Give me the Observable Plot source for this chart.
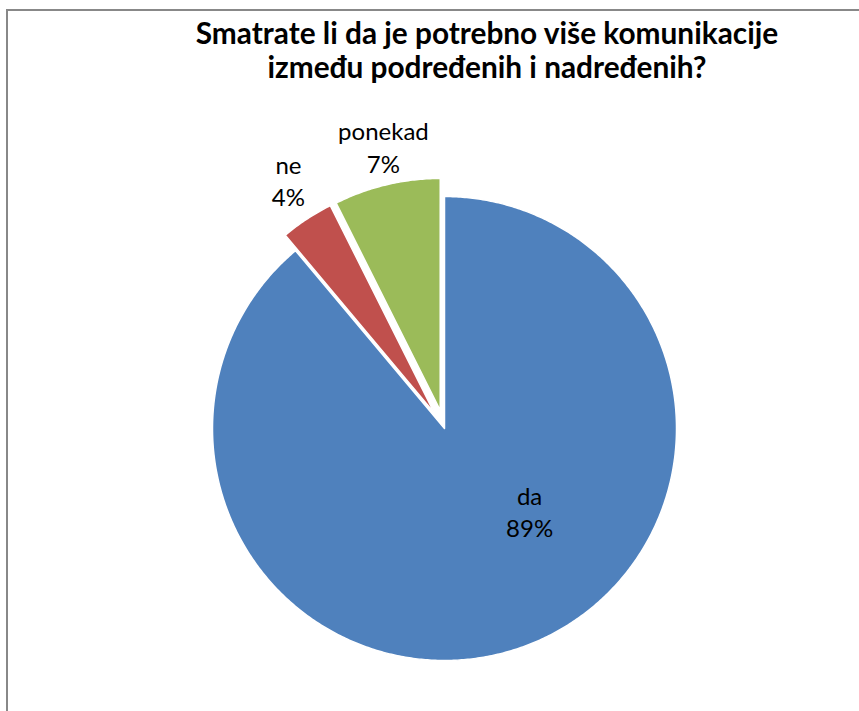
<!DOCTYPE html>
<html>
<head>
<meta charset="utf-8">
<script src="https://cdn.jsdelivr.net/npm/d3@7"></script>
<script src="https://cdn.jsdelivr.net/npm/@observablehq/plot@0.6"></script>
<style>
html, body { margin: 0; padding: 0; background: #fff; width: 859px; height: 711px; overflow: hidden; }
#frame { position: absolute; left: 6px; top: 9px; width: 1000px; height: 1000px;
  border-left: 2px solid #888; border-top: 2px solid #888; }
#title { position: absolute; left: 137px; width: 700px; top: 16px; text-align: center;
  font-family: Lato, sans-serif; font-weight: bold; font-size: 29.8px; line-height: 34px; color: #000; }
#chart { position: absolute; left: 0; top: 0; }
</style>
</head>
<body>
<div id="frame"></div>
<div id="chart"></div>
<div id="title">Smatrate li da je potrebno više komunikacije<br>između podređenih i nadređenih?</div>
<script>
const categories = ["da", "ne", "ponekad"];
const values = [88.9, 3.7, 7.4];
const colors = ["#4F81BD", "#C0504D", "#9BBB59"];
const exploded = ["ne", "ponekad"];

// layout (pixels)
const cx = 444, cy = 428, R = 232;
const explodeFrac = 0.08;
const labelPlace = { // polar placement (degrees clockwise from top, radius in units of R)
  da: {angle: 134, r: 0.51},
  ne: {angle: 327.9, r: 1.266},
  ponekad: {angle: 347.8, r: 1.246}
};

const total = d3.sum(values);
let a0 = 0;
const pts = [];
const labels = [];
categories.forEach((c, i) => {
  const a1 = a0 + values[i] / total * 2 * Math.PI;
  const mid = (a0 + a1) / 2;
  const off = exploded.includes(c) ? explodeFrac : 0;
  const ox = off * Math.sin(mid), oy = off * Math.cos(mid);
  pts.push({cat: c, x: ox, y: oy});
  const n = Math.max(2, Math.ceil((a1 - a0) / (Math.PI / 360)));
  for (let k = 0; k <= n; k++) {
    const a = a0 + (a1 - a0) * k / n;
    pts.push({cat: c, x: ox + Math.sin(a), y: oy + Math.cos(a)});
  }
  const lp = labelPlace[c];
  const la = lp.angle * Math.PI / 180;
  labels.push({cat: c, x: lp.r * Math.sin(la), y: lp.r * Math.cos(la),
    text: c + "\n" + Math.round(values[i] / total * 100) + "%"});
  a0 = a1;
});

const plot = Plot.plot({
  width: 859, height: 711, margin: 0,
  style: {background: "transparent", overflow: "visible"},
  x: {axis: null, domain: [-1, 1], range: [cx - R, cx + R]},
  y: {axis: null, domain: [-1, 1], range: [cy + R, cy - R]},
  color: {domain: categories, range: colors},
  marks: [
    Plot.line(pts, {x: "x", y: "y", z: "cat", fill: "cat", stroke: "white", strokeWidth: 1.5, curve: "linear-closed"}),
    Plot.text(labels, {x: "x", y: "y", text: "text", fontSize: 24, lineHeight: 1.35,
      fontFamily: "Lato, sans-serif", fill: "#000", lineAnchor: "middle"})
  ]
});
document.getElementById("chart").appendChild(plot);
</script>
</body>
</html>
